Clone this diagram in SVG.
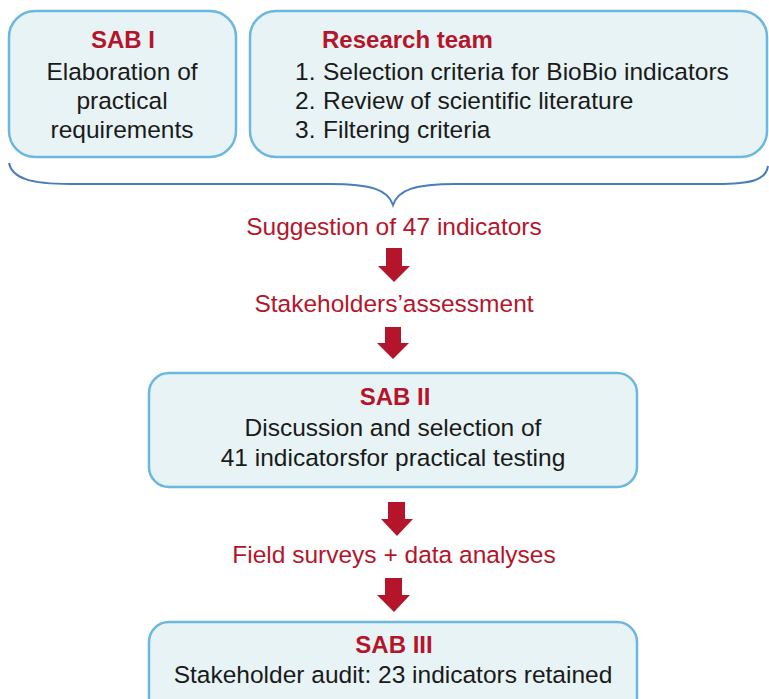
<svg xmlns="http://www.w3.org/2000/svg" width="769" height="699" viewBox="0 0 769 699">
<defs>
<style>
.box{fill:#e7f3f4;stroke:#6bb7de;stroke-width:2.5}
.t{font-family:"Liberation Sans",Arial,sans-serif;font-size:24.5px;fill:#1a1a1a}
.h{font-family:"Liberation Sans",Arial,sans-serif;font-size:24px;font-weight:bold;fill:#b5152b}
.r{font-family:"Liberation Sans",Arial,sans-serif;font-size:24.5px;fill:#b5152b}
.arr{fill:#b5152b}
.brace{fill:none;stroke:#4a7ebb;stroke-width:2}
</style>
</defs>
<rect width="769" height="699" fill="#ffffff"/>
<g id="sab1">
<rect class="box" x="9" y="11" width="227" height="146" rx="26"/>
<text class="h" x="123" y="48" text-anchor="middle">SAB I</text>
<text class="t" x="122" y="80" text-anchor="middle">Elaboration of</text>
<text class="t" x="122" y="109" text-anchor="middle">practical</text>
<text class="t" x="122" y="138" text-anchor="middle">requirements</text>
</g>
<g id="research">
<rect class="box" x="250" y="11" width="517" height="146" rx="26"/>
<text class="h" x="322" y="48">Research team</text>
<text class="t" x="295" y="80">1.</text>
<text class="t" x="323" y="80">Selection criteria for BioBio indicators</text>
<text class="t" x="295" y="109">2.</text>
<text class="t" x="323" y="109">Review of scientific literature</text>
<text class="t" x="295" y="138">3.</text>
<text class="t" x="323" y="138">Filtering criteria</text>
</g>
<g id="sab2">
<rect class="box" x="149" y="373" width="488" height="114" rx="20"/>
<text class="h" x="395" y="405" text-anchor="middle">SAB II</text>
<text class="t" x="393" y="436" text-anchor="middle">Discussion and selection of</text>
<text class="t" x="393" y="466" text-anchor="middle">41 indicatorsfor practical testing</text>
</g>
<g id="sab3">
<rect class="box" x="149" y="622" width="488" height="100" rx="20"/>
<text class="h" x="394" y="653" text-anchor="middle">SAB III</text>
<text class="t" x="393" y="683" text-anchor="middle">Stakeholder audit: 23 indicators retained</text>
</g>
<g id="connectors">
<path class="brace" d="M9 163 C12 178 30 184 70 184 L330 184 C372 184 388 190 393 205 C398 190 414 184 456 184 L716 184 C752 184 766 180 768 166"/>
<text class="r" x="394" y="235" text-anchor="middle">Suggestion of 47 indicators</text>
<polygon class="arr" points="386,248 402,248 402,266 410,266 394,282 378,266 386,266"/>
<text class="r" x="394" y="312" text-anchor="middle">Stakeholders’assessment</text>
<polygon class="arr" points="385,327 401,327 401,343 409,343 393,359 377,343 385,343"/>
<polygon class="arr" points="388,502 405,502 405,519 413,519 397,536 381,519 388,519"/>
<text class="r" x="394" y="563" text-anchor="middle">Field surveys + data analyses</text>
<polygon class="arr" points="385,578 402,578 402,595 410,595 394,612 377,595 385,595"/>
</g>
</svg>
